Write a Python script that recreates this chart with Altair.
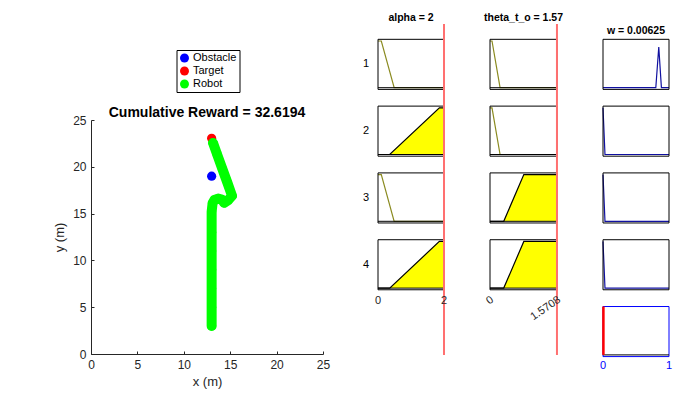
import altair as alt
import numpy as np
import pandas as pd

FONT = "Liberation Sans"
AXC = "#262626"

# ---------------- main trajectory plot data ----------------
obstacle_x = [13.0]
obstacle_y = [19.0]
target_x = [13.0]
target_y = [23.05]
robot_x = [13.0, 13.0, 13.0, 13.0, 13.0, 13.0, 13.0, 13.1, 13.3, 13.7, 14.1, 14.35,
           14.8, 15.2, 14.7, 14.15, 13.6, 13.15]
robot_y = [3.0, 5.0, 7.0, 9.0, 11.0, 13.0, 15.2, 16.1, 16.45, 16.6, 16.5, 16.15,
           16.45, 16.9, 18.3, 19.8, 21.3, 22.55]
legend_names = ["Obstacle", "Target", "Robot"]
legend_colors = ["#0000ff", "#ff0000", "#00ff00"]
axis_ticks = [0, 5, 10, 15, 20, 25]
reward = "32.6194"

# ---------------- rule viewer data ----------------
alpha_value = 2
alpha_range = [0, 2]
theta_value = 1.57
theta_range = [0, 1.5708]
w_value = 0.00625
w_range = [0, 1]
alpha_mf_x = {"low": [0, 0.10, 0.49, 2.0], "high": [0, 0.355, 1.86, 2.0]}
alpha_mf_mu = {"low": [1, 1, 0, 0], "high": [0, 0, 1, 1]}
theta_mf_x = {"low": [0, 0.047, 0.236, 1.5708], "high": [0, 0.322, 0.793, 1.5708]}
theta_mf_mu = {"low": [1, 1, 0, 0], "high": [0, 0, 1, 1]}
rule_alpha = ["low", "high", "low", "high"]
rule_theta = ["low", "low", "high", "high"]
w_mf_x = [[0, 0.80, 0.845, 0.885, 1], [0, 0.03, 1], [0, 0.03, 1], [0, 0.03, 1]]
w_mf_mu = [[0, 0, 0.87, 0, 0], [1, 0, 0], [1, 0, 0], [1, 0, 0]]
row_labels = ["1", "2", "3", "4"]

# ---------------- layout ----------------
H = 420
MAIN_W = 332
COL_W = [66, 67, 66]
GAP = 46
U = 46.7        # px per membership unit
TOP1 = 41.0     # px of mu=1 in first row
PITCH = 66.8    # px between panel rows
LO, HI = -0.036, 1.036

YELLOW = "#ffff00"
OLIVE = "#8a8a20"
REDLINE = "#ff7070"
NAVY = "#1010a0"


def yc(px):
    return 1 - (px - TOP1) / U


def roff(r):
    return -r * PITCH / U


# ---------------- main chart ----------------
pts = pd.DataFrame({
    "x": obstacle_x + target_x + robot_x,
    "y": obstacle_y + target_y + robot_y,
    "kind": ["Obstacle"] * len(obstacle_x) + ["Target"] * len(target_x) + ["Robot"] * len(robot_x),
})
path = pd.DataFrame({"x": robot_x, "y": robot_y, "i": list(range(len(robot_x)))})

xs = alt.Scale(domain=[0, 25], range=[91, 323], nice=False, zero=False)
ys = alt.Scale(domain=[0, 25], range=[354, 120], nice=False, zero=False)

common_axis = dict(grid=False, domainColor=AXC, labelColor=AXC, titleColor=AXC,
                   labelFont=FONT, titleFont=FONT, labelFontSize=12, titleFontSize=13,
                   titleFontWeight="normal", ticks=False, labelFlush=False, values=axis_ticks)

points = alt.Chart(pts).mark_point(filled=True, size=85, opacity=1, shape="circle").encode(
    x=alt.X("x:Q", scale=xs, axis=alt.Axis(orient="bottom", offset=-(H - 354), title="x (m)",
                                           labelPadding=5, titlePadding=5, **common_axis)),
    y=alt.Y("y:Q", scale=ys, axis=alt.Axis(orient="left", offset=-91, title="y (m)",
                                           labelPadding=5, titlePadding=6, **common_axis)),
    color=alt.Color("kind:N", scale=alt.Scale(domain=legend_names, range=legend_colors),
                    legend=alt.Legend(orient="none", legendX=176.5, legendY=50, title=None,
                                      strokeColor="black", fillColor="white", padding=2.5,
                                      symbolType="circle", symbolSize=80, symbolStrokeWidth=0,
                                      labelFont=FONT, labelFontSize=11, labelColor="black",
                                      rowPadding=1, labelOffset=3, cornerRadius=0)),
)

robot_line = alt.Chart(path).mark_line(color="#00ff00", strokeWidth=10, strokeCap="round",
                                       strokeJoin="round").encode(
    x=alt.X("x:Q", axis=None), y=alt.Y("y:Q", axis=None), order="i:Q")

inward_ticks = alt.Chart(pts).mark_point(opacity=0).encode(
    x=alt.X("x:Q", axis=alt.Axis(orient="top", offset=-354, values=axis_ticks, labels=False,
                                 domain=False, tickSize=3, tickColor=AXC, title=None, grid=False)),
    y=alt.Y("y:Q", axis=alt.Axis(orient="right", offset=-(MAIN_W - 91), values=axis_ticks,
                                 labels=False, domain=False, tickSize=3, tickColor=AXC,
                                 title=None, grid=False)),
)

main = alt.layer(points, robot_line, inward_ticks).resolve_axis(
    x="independent", y="independent"
).properties(
    width=MAIN_W, height=H,
    title=alt.TitleParams("Cumulative Reward = " + reward, frame="group", anchor="middle",
                          dx=41, offset=-131, baseline="alphabetic", font=FONT, fontSize=14,
                          fontWeight="bold", color="black"),
)


# ---------------- rule viewer columns ----------------
def col_scales(rng, width):
    xsc = alt.Scale(domain=rng, nice=False, zero=False)
    ysc = alt.Scale(domain=[yc(H), yc(0)], nice=False, zero=False)
    return xsc, ysc


def text_layer(df, xsc, ysc, **kw):
    return alt.Chart(df).mark_text(font=FONT, **kw).encode(
        x=alt.X("x:Q", scale=xsc, axis=None),
        y=alt.Y("y:Q", scale=ysc, axis=None),
        text="t:N",
    )


def input_column(mf_x, mf_mu, rules, value, rng, width, title, ticks, rotated, with_rows):
    xsc, ysc = col_scales(rng, width)
    lines, fills = [], []
    for r, name in enumerate(rules):
        xv, mv = mf_x[name], mf_mu[name]
        active = np.interp(value, xv, mv) > 0
        for a, m in zip(xv, mv):
            row = {"x": a, "y": m + roff(r), "base": roff(r), "panel": r,
                   "col": "black" if active else OLIVE}
            lines.append(row)
            if active:
                fills.append(row)
    lines = pd.DataFrame(lines)
    fills = pd.DataFrame(fills)
    n = len(rules)
    frames = pd.DataFrame({"x0": [rng[0]] * n, "x1": [rng[1]] * n,
                           "y0": [roff(r) + LO for r in range(n)],
                           "y1": [roff(r) + HI for r in range(n)],
                           "yb": [roff(r) for r in range(n)]})
    red = pd.DataFrame({"v": [value], "ya": [yc(24)], "yb": [yc(355)]})

    fill_l = alt.Chart(fills).mark_area(color=YELLOW, opacity=1).encode(
        x=alt.X("x:Q", scale=xsc, axis=None), y=alt.Y("y:Q", scale=ysc, axis=None),
        y2="base:Q", detail="panel:N")
    line_l = alt.Chart(lines).mark_line(strokeWidth=1.2).encode(
        x=alt.X("x:Q", scale=xsc, axis=None), y=alt.Y("y:Q", scale=ysc, axis=None),
        color=alt.Color("col:N", scale=None), detail="panel:N")
    base_l = alt.Chart(frames).mark_rule(color="black", strokeWidth=1).encode(
        x=alt.X("x0:Q", scale=xsc, axis=None), x2="x1:Q",
        y=alt.Y("yb:Q", scale=ysc, axis=None))
    box_l = alt.Chart(frames).mark_rect(fillOpacity=0, stroke="black", strokeWidth=1).encode(
        x=alt.X("x0:Q", scale=xsc, axis=None), x2="x1:Q",
        y=alt.Y("y0:Q", scale=ysc, axis=None), y2="y1:Q")
    red_l = alt.Chart(red).mark_rule(color=REDLINE, strokeWidth=2).encode(
        x=alt.X("v:Q", scale=xsc, axis=None), y=alt.Y("ya:Q", scale=ysc, axis=None), y2="yb:Q")

    title_df = pd.DataFrame({"x": [(rng[0] + rng[1]) / 2], "y": [yc(17.5)], "t": [title]})
    title_l = text_layer(title_df, xsc, ysc, fontSize=10.5, fontWeight="bold",
                         align="center", baseline="middle", color="black")
    tick_df = pd.DataFrame({"x": [rng[0], rng[1]], "y": [yc(300.5)] * 2, "t": ticks})
    if rotated:
        tick_l = text_layer(tick_df, xsc, ysc, fontSize=11, angle=325, align="right",
                            baseline="middle", dx=3, color=AXC)
    else:
        tick_l = text_layer(tick_df, xsc, ysc, fontSize=11, align="center",
                            baseline="middle", color=AXC)
    layers = [fill_l, line_l, base_l, box_l, red_l, title_l, tick_l]
    if with_rows:
        rows_df = pd.DataFrame({"x": [rng[0]] * n, "y": [roff(r) + 0.5 for r in range(n)],
                                "t": row_labels})
        layers.append(text_layer(rows_df, xsc, ysc, fontSize=11, align="center",
                                 baseline="middle", dx=-12, color="black"))
    return alt.layer(*layers).properties(width=width, height=H)


def output_column(width):
    xsc, ysc = col_scales(w_range, width)
    lines = []
    for r, (xv, mv) in enumerate(zip(w_mf_x, w_mf_mu)):
        for a, m in zip(xv, mv):
            lines.append({"x": a, "y": m + roff(r), "panel": r})
    lines = pd.DataFrame(lines)
    n = len(w_mf_x) + 1
    frames = pd.DataFrame({"x0": [w_range[0]] * n, "x1": [w_range[1]] * n,
                           "y0": [roff(r) + LO for r in range(n)],
                           "y1": [roff(r) + HI for r in range(n)],
                           "stroke": ["black"] * (n - 1) + ["#0000ff"]})
    agg = pd.DataFrame({"x0": [w_range[0]], "x1": [w_range[1]], "yb": [roff(n - 1)],
                        "v": [w_value], "ytop": [roff(n - 1) + HI]})

    line_l = alt.Chart(lines).mark_line(strokeWidth=1.2, color=NAVY).encode(
        x=alt.X("x:Q", scale=xsc, axis=None), y=alt.Y("y:Q", scale=ysc, axis=None),
        detail="panel:N")
    box_l = alt.Chart(frames).mark_rect(fillOpacity=0, strokeWidth=1).encode(
        x=alt.X("x0:Q", scale=xsc, axis=None), x2="x1:Q",
        y=alt.Y("y0:Q", scale=ysc, axis=None), y2="y1:Q",
        stroke=alt.Stroke("stroke:N", scale=None))
    base_l = alt.Chart(agg).mark_rule(color="black", strokeWidth=1).encode(
        x=alt.X("x0:Q", scale=xsc, axis=None), x2="x1:Q",
        y=alt.Y("yb:Q", scale=ysc, axis=None))
    red_l = alt.Chart(agg).mark_rule(color="#ff0000", strokeWidth=2.5).encode(
        x=alt.X("v:Q", scale=xsc, axis=None), y=alt.Y("yb:Q", scale=ysc, axis=None), y2="ytop:Q")
    title_df = pd.DataFrame({"x": [0.5], "y": [yc(30.7)], "t": ["w = " + str(w_value)]})
    title_l = text_layer(title_df, xsc, ysc, fontSize=10.5, fontWeight="bold",
                         align="center", baseline="middle", color="black")
    tick_df = pd.DataFrame({"x": w_range, "y": [yc(366)] * 2, "t": ["0", "1"]})
    tick_l = text_layer(tick_df, xsc, ysc, fontSize=11, align="center",
                        baseline="middle", color="#0000ff")
    return alt.layer(line_l, box_l, base_l, red_l, title_l, tick_l).properties(width=width, height=H)


alpha_col = input_column(alpha_mf_x, alpha_mf_mu, rule_alpha, alpha_value, alpha_range,
                         COL_W[0], "alpha = " + str(alpha_value), ["0", "2"], False, True)
theta_col = input_column(theta_mf_x, theta_mf_mu, rule_theta, theta_value, theta_range,
                         COL_W[1], "theta_t_o = " + str(theta_value), ["0", "1.5708"], True, False)
w_col = output_column(COL_W[2])

chart = alt.hconcat(main, alpha_col, theta_col, w_col, spacing=GAP, bounds="flush").properties(
    padding=0
).configure(font=FONT).configure_view(stroke=None)

chart.save("out.html", embed_options={"renderer": "svg", "actions": False})
